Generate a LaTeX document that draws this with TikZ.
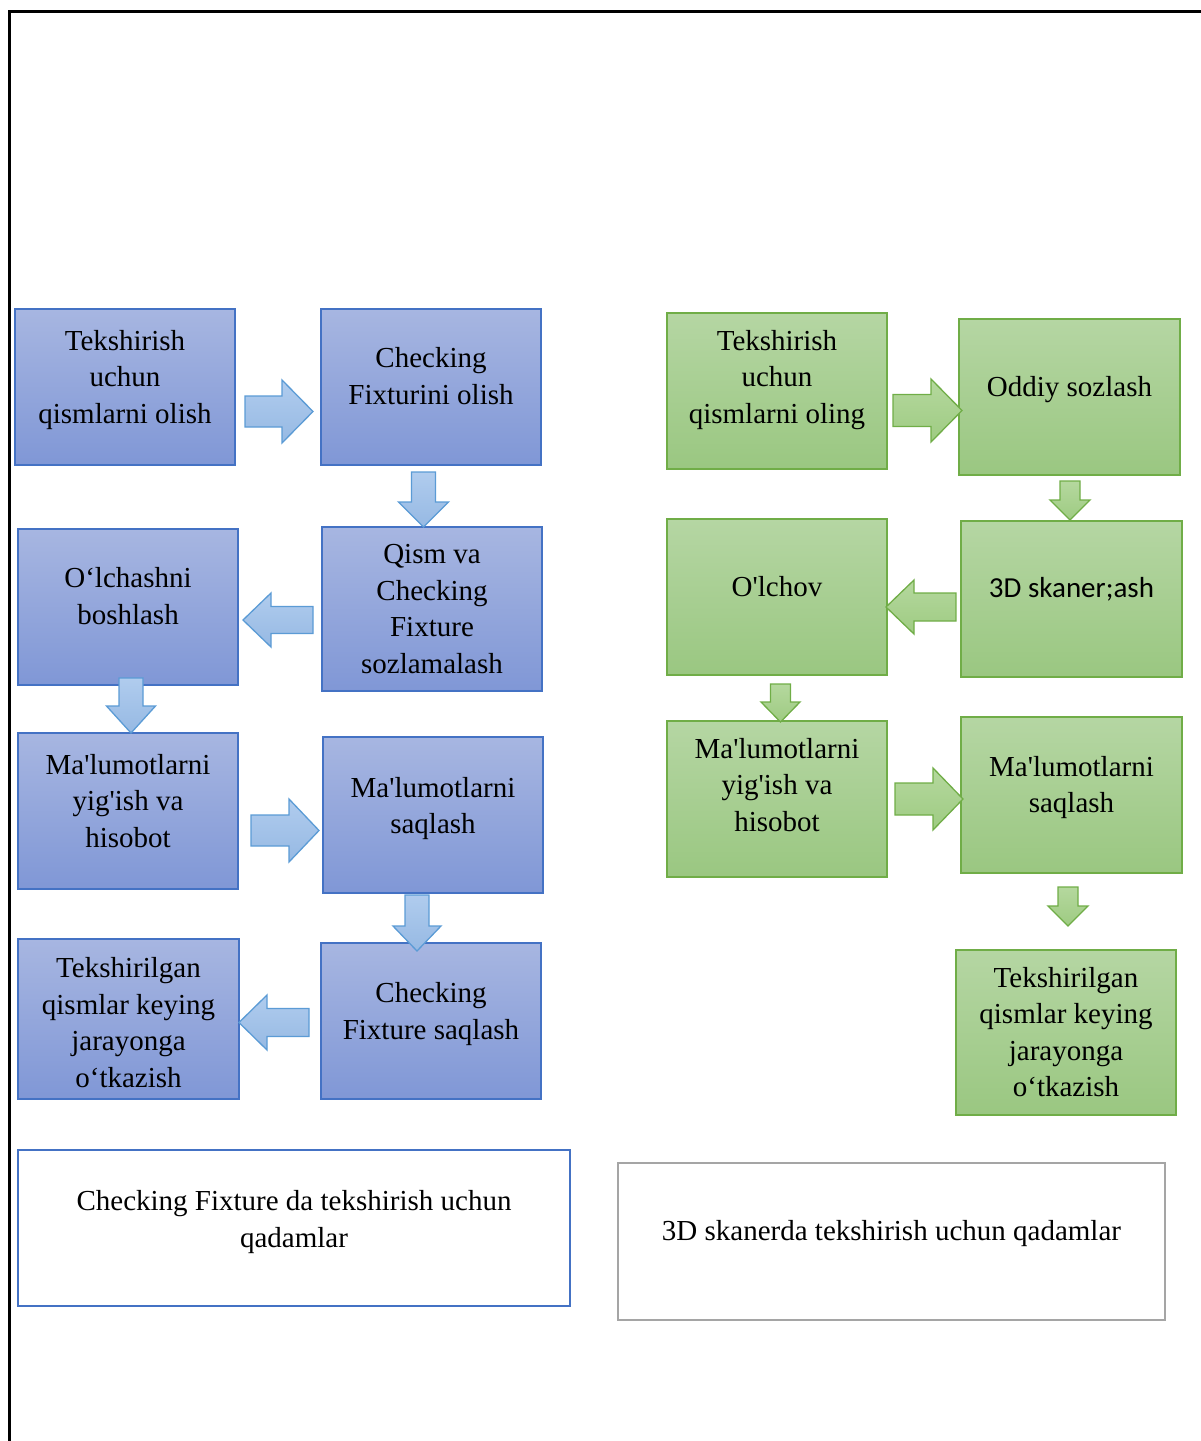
\documentclass[tikz,border=0pt]{standalone}
\usepackage{fontspec}
\setmainfont{Liberation Serif}[Ligatures=TeXOff]
\newfontfamily\calib{Carlito}[Ligatures=TeXOff]
\definecolor{bTop}{HTML}{A7B6E1}
\definecolor{bBot}{HTML}{8097D6}
\definecolor{bLine}{HTML}{4472C4}
\definecolor{gTop}{HTML}{B5D6A3}
\definecolor{gBot}{HTML}{9AC781}
\definecolor{gLine}{HTML}{70AD47}
\definecolor{aTop}{HTML}{B0CCEE}
\definecolor{aBot}{HTML}{96B9E3}
\definecolor{aLine}{HTML}{5B9BD5}
\definecolor{gaTop}{HTML}{B5D89E}
\definecolor{gaBot}{HTML}{9ECB82}
\definecolor{capGray}{HTML}{A5A5A5}
\newcommand\hblk[7]{\draw[#1] (#2,{#4-#5}) -- (#7,{#4-#5}) -- (#7,{#4-#6}) -- (#3,#4) -- (#7,{#4+#6}) -- (#7,{#4+#5}) -- (#2,{#4+#5}) -- cycle;}
\newcommand\vblk[7]{\draw[#1] ({#4-#5},#2) -- ({#4-#5},#7) -- ({#4-#6},#7) -- (#4,#3) -- ({#4+#6},#7) -- ({#4+#5},#7) -- ({#4+#5},#2) -- cycle;}
\begin{document}
\begin{tikzpicture}[x=1pt,y=-1pt,
  bbox/.style={draw=bLine, line width=1.4pt, top color=bTop, bottom color=bBot, minimum width=220pt, minimum height=156pt, inner sep=0pt},
  gbox/.style={draw=gLine, line width=1.4pt, top color=gTop, bottom color=gBot, minimum width=220pt, minimum height=156pt, inner sep=0pt},
  txt/.style={align=center, inner sep=0pt, font=\fontsize{29}{36.5}\selectfont, execute at begin node=\strut, execute at end node=\strut},
  barr/.style={draw=aLine, line width=1.3pt, top color=aTop, bottom color=aBot, line join=miter},
  garr/.style={draw=gLine, line width=1.3pt, top color=gaTop, bottom color=gaBot, line join=miter},
  capbox/.style={line width=2.4pt, fill=white, inner sep=0pt}
]
\useasboundingbox (0,0) rectangle (1201,1441);
% frame
\draw[line width=3pt] (9.7,1445) -- (9.7,11.5) -- (1205,11.5);

% blue boxes
\node[bbox] (b1) at (125,387) {};
\node[txt, yshift=5pt] (b1t) at (b1) {Tekshirish\\uchun\\qismlarni olish};
\node[bbox] (b2) at (431,387) {};
\node[txt, yshift=5.5pt] (b2t) at (b2) {Checking\\Fixturini olish};
\node[bbox, minimum height=164pt] (b3) at (432,609) {};
\node[txt, yshift=-5.5pt] (b3t) at (b3) {Qism va\\Checking\\Fixture\\sozlamalash};
\node[bbox] (b4) at (128,607) {};
\node[txt, yshift=5.5pt] (b4t) at (b4) {O‘lchashni\\boshlash};
\node[bbox] (b5) at (128,811) {};
\node[txt, yshift=5pt] (b5t) at (b5) {Ma'lumotlarni\\yig'ish va\\hisobot};
\node[bbox] (b6) at (433,815) {};
\node[txt, yshift=4pt] (b6t) at (b6) {Ma'lumotlarni\\saqlash};
\node[bbox] (b7) at (431,1021) {};
\node[txt, yshift=4.5pt] (b7t) at (b7) {Checking\\Fixture saqlash};
\node[bbox, minimum width=221pt, minimum height=160pt] (b8) at (128.5,1019) {};
\node[txt, yshift=-9pt] (b8t) at (b8) {Tekshirilgan\\qismlar keying\\jarayonga\\o‘tkazish};

% green boxes
\node[gbox] (g1) at (777,391) {};
\node[txt, yshift=9pt] (g1t) at (g1) {Tekshirish\\uchun\\qismlarni oling};
\node[gbox, minimum width=221pt] (g2) at (1069.5,397) {};
\node[txt, yshift=8pt] (g2t) at (g2) {Oddiy sozlash};
\node[gbox, minimum width=221pt] (g3) at (1071.5,599) {};
\node[txt, yshift=9pt, font=\calib\fontsize{29}{36.5}\selectfont] (g3t) at (g3) {3D skaner;ash};
\node[gbox] (g4) at (777,597) {};
\node[txt, yshift=8pt] (g4t) at (g4) {O'lchov};
\node[gbox] (g5) at (777,799) {};
\node[txt, yshift=9pt] (g5t) at (g5) {Ma'lumotlarni\\yig'ish va\\hisobot};
\node[gbox, minimum width=221pt] (g6) at (1071.5,795) {};
\node[txt, yshift=5pt] (g6t) at (g6) {Ma'lumotlarni\\saqlash};
\node[gbox, minimum height=165pt] (g7) at (1066,1032.5) {};
\node[txt, yshift=-5pt] (g7t) at (g7) {Tekshirilgan\\qismlar keying\\jarayonga\\o‘tkazish};

% blue block arrows
\hblk{barr}{245}{313}{411.5}{15.5}{31.5}{282}
\vblk{barr}{472}{527}{423.5}{12}{25}{502}
\hblk{barr}{313}{243}{620}{13.5}{27}{271}
\vblk{barr}{678}{733}{131}{12}{24.5}{706}
\hblk{barr}{251}{319}{830.5}{15.5}{31.5}{289}
\vblk{barr}{895}{951}{417}{12}{24}{926}
\hblk{barr}{309}{239}{1022.5}{14}{27.5}{267}

% green block arrows
\hblk{garr}{893}{962}{410.5}{16}{31.5}{931}
\vblk{garr}{481}{520}{1070}{10}{20}{500}
\hblk{garr}{956}{886}{607}{14}{27}{914}
\vblk{garr}{684}{722}{780.5}{10}{19.5}{702}
\hblk{garr}{895}{963}{799}{16}{31}{933}
\vblk{garr}{887}{926}{1068}{10}{20}{906}

% captions
\node[capbox, draw=bLine, minimum width=552pt, minimum height=156pt] (c1) at (294,1228) {};
\node[txt, yshift=3.5pt] (c1t) at (c1) {Checking Fixture da tekshirish uchun\\qadamlar};
\node[capbox, draw=capGray, minimum width=547pt, minimum height=157pt] (c2) at (891.5,1241.5) {};
\node[txt, yshift=8.5pt] (c2t) at (c2) {3D skanerda tekshirish uchun qadamlar};
\end{tikzpicture}
\end{document}
